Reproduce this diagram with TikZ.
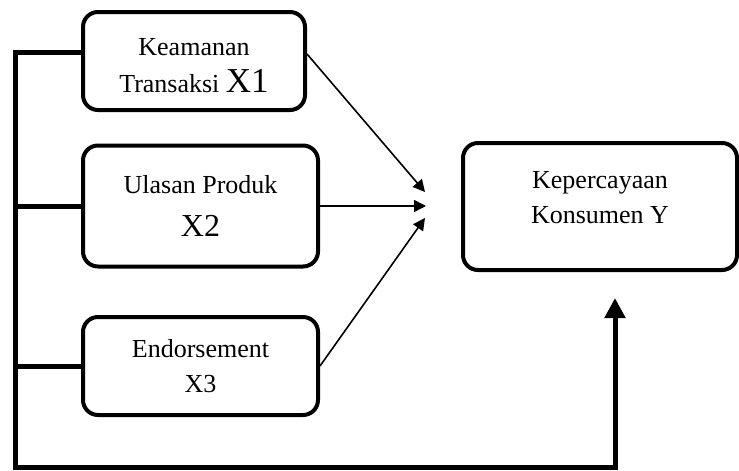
\documentclass[tikz,border=0pt]{standalone}
\usepackage{fontspec}
\setmainfont{Liberation Serif}
\usetikzlibrary{arrows.meta}

\tikzset{
    varbox/.style={draw, line width=2pt, rounded corners=7.5pt, align=center,
        font=\fontsize{13}{17.5}\selectfont, inner sep=0pt},
    bus/.style={line width=2.5pt},
    link/.style={line width=0.8pt, -{Triangle[length=6pt,width=6pt]}}
}

\begin{document}
\begin{tikzpicture}[x=0.5pt, y=-0.5pt]
    \useasboundingbox (0,0) rectangle (739,471);

    \node[varbox, minimum width=111pt, minimum height=49pt] (X1) at (194,61)
        {\rule{0pt}{13pt}Keamanan\\[1pt]Transaksi {\fontsize{17.5}{17.5}\selectfont X1}};
    \node[varbox, minimum width=117.5pt, minimum height=60.5pt] (X2) at (200.5,206)
        {Ulasan Produk\\[4pt]{\fontsize{16}{17.5}\selectfont X2}};
    \node[varbox, minimum width=117.5pt, minimum height=49pt] (X3) at (200.5,366)
        {Endorsement\\X3};
    \node[varbox, minimum width=137pt, minimum height=63.5pt] (Y) at (600,206.5)
        {Kepercayaan\\Konsumen Y\\[-8pt]};

    \coordinate (corner) at (15,467);
    \coordinate (tip) at (615,298);
    \coordinate (in1) at (425,192);
    \coordinate (in2) at (426,206);
    \coordinate (in3) at (425,218);

    \draw[bus, -{Triangle[length=10pt,width=10pt]}] ([yshift=4.5pt]X1.west) -| (corner) -| (tip);
    \draw[bus] (X2.west) -- (X2.west -| corner);
    \draw[bus] (X3.west) -- (X3.west -| corner);

    \draw[link] ([yshift=3.5pt]X1.east) -- (in1);
    \draw[link] (X2.east) -- (in2);
    \draw[link] (X3.east) -- (in3);
\end{tikzpicture}
\end{document}
